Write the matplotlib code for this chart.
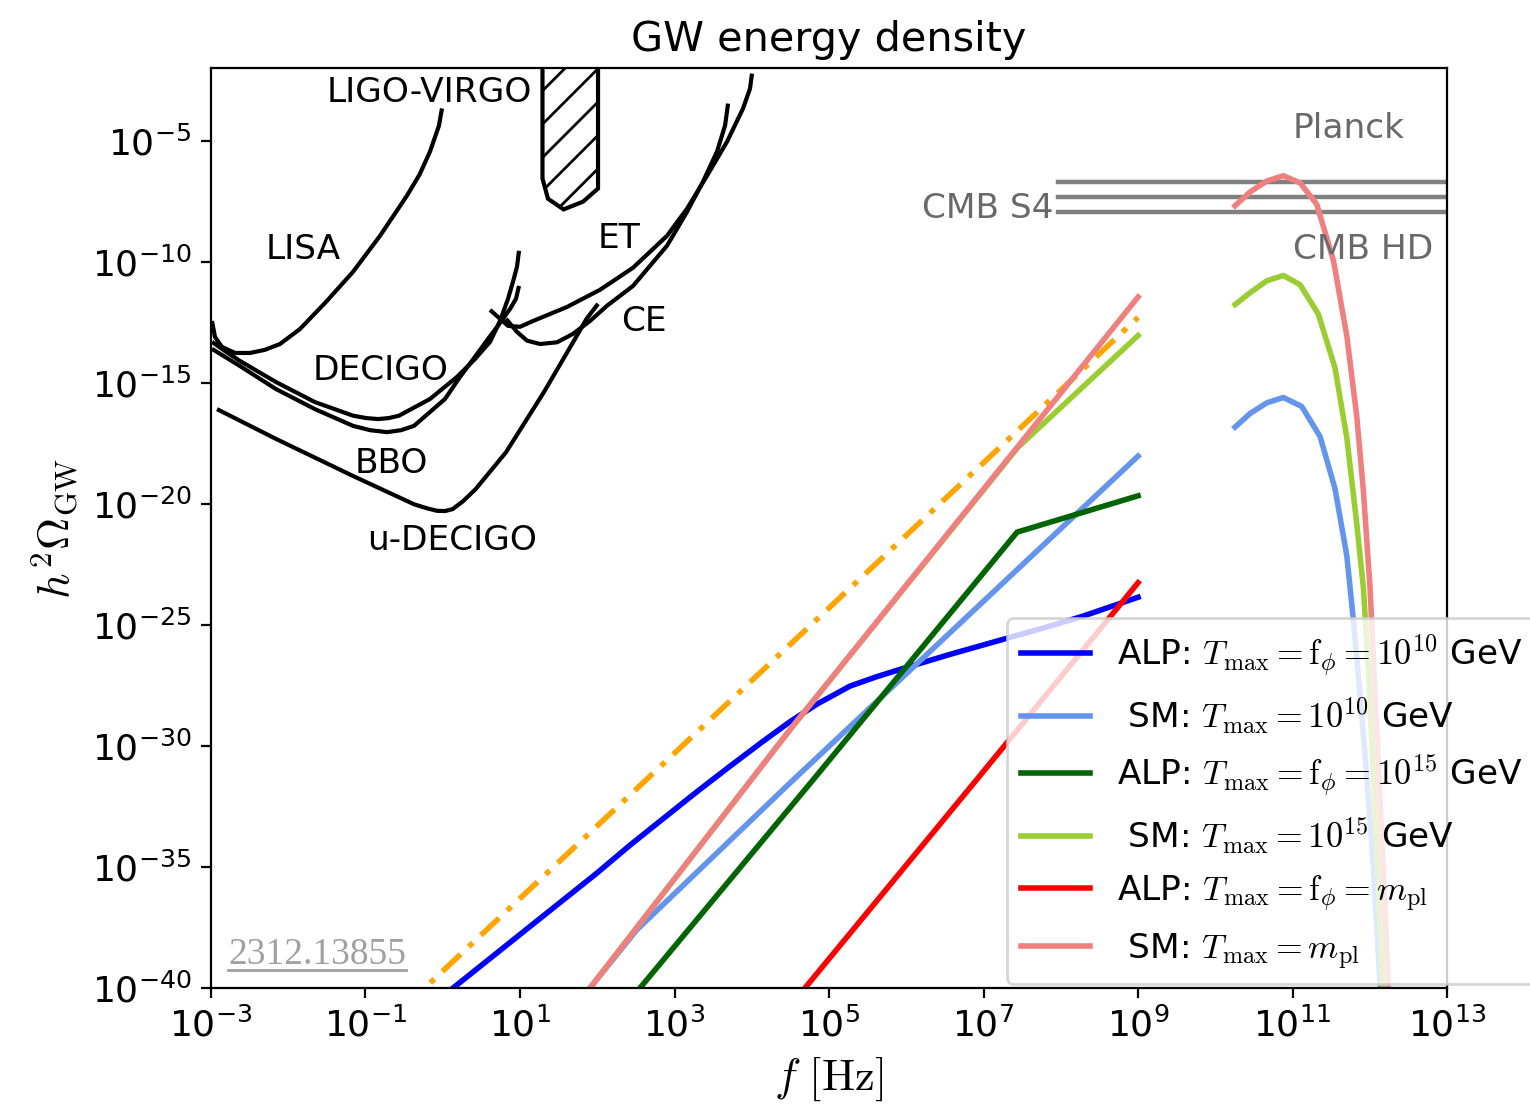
import matplotlib
matplotlib.use("Agg")
import matplotlib.pyplot as plt
import numpy as np

plt.rcParams["mathtext.fontset"] = "cm"

# ---- detector sensitivity curves (log10 f [Hz], log10 h^2 Omega_GW) ----
lisa_lf = [-2.987, -2.948, -2.858, -2.689, -2.495, -2.301, -2.107, -1.848, -1.511,
           -1.162, -0.812, -0.463, -0.300, -0.165, -0.049, -0.010]
lisa_lo = [-12.45, -13.11, -13.52, -13.77, -13.77, -13.64, -13.40, -12.78, -11.66,
           -10.42, -8.93, -7.27, -6.40, -5.45, -4.38, -3.67]

decigo_lf = [-2.987, -2.819, -2.625, -2.159, -1.654, -1.162, -0.990, -0.838, -0.700,
             -0.566, -0.165, 0.184, 0.417, 0.612, 0.741, 0.845, 0.909, 0.961, 0.987]
decigo_lo = [-13.31, -13.69, -14.10, -14.97, -15.80, -16.36, -16.46, -16.50, -16.46,
             -16.36, -15.67, -14.76, -14.02, -13.31, -12.45, -11.53, -10.83, -10.21, -9.55]

bbo_lf = [-2.987, -2.819, -2.625, -2.159, -1.654, -1.162, -0.940, -0.722, -0.540,
          -0.372, 0.029, 0.223, 0.417, 0.586, 0.741, 0.871, 0.948, 0.987]
bbo_lo = [-13.60, -13.93, -14.31, -15.26, -16.09, -16.78, -16.96, -17.04, -16.96,
          -16.78, -15.67, -14.76, -13.93, -13.19, -12.53, -11.95, -11.53, -11.00]

udecigo_lf = [-2.922, -2.152, -1.162, -0.372, -0.200, -0.074, 0.030, 0.128, 0.260,
              0.424, 0.819, 1.311, 1.712, 1.861, 2.010]
udecigo_lo = [-16.09, -17.33, -18.85, -20.02, -20.19, -20.29, -20.30, -20.22, -19.90,
              -19.40, -17.87, -15.38, -13.19, -12.36, -11.74]

et_lf = [0.612, 0.845, 1.000, 1.168, 1.608, 2.036, 2.463, 2.903, 3.162, 3.421,
         3.680, 3.887, 3.977, 4.003]
et_lo = [-11.99, -12.65, -12.69, -12.45, -11.87, -11.16, -10.25, -8.93, -7.81, -6.45,
         -5.04, -3.67, -2.85, -2.23]

ce_lf = [0.819, 0.961, 1.091, 1.259, 1.479, 1.686, 1.906, 2.126, 2.463, 2.903,
         3.162, 3.369, 3.550, 3.654, 3.693]
ce_lo = [-12.36, -12.90, -13.26, -13.40, -13.33, -12.98, -12.45, -11.82, -11.00, -9.34,
         -7.94, -6.69, -5.45, -4.38, -3.47]

ligo_lf = [1.291, 1.291, 1.362, 1.564, 1.816, 1.984, 2.010, 2.010]
ligo_lo = [0.0, -6.57, -7.40, -7.84, -7.52, -7.05, -6.98, 0.0]

# CMB N_eff bounds
cmb_names = ["Planck", "CMB S4", "CMB HD"]
cmb_lo = [-6.69, -7.31, -7.94]
cmb_lf_range = [7.96, 13.5]

# ---- GW spectra ----
ref_lf = [-1.0, 9.0]
ref_lo = [-42.3, -12.3]

alp10_lf = [0.094, 0.698, 1.129, 1.561, 1.993, 2.424, 2.855, 3.287, 3.718, 4.150,
            4.495, 4.841, 5.272, 5.600, 5.919, 6.566, 7.252, 7.861, 8.288, 9.0]
alp10_lo = [-40.10, -38.56, -37.46, -36.36, -35.26, -34.10, -33.00, -31.90, -30.84,
            -29.80, -29.00, -28.28, -27.53, -27.16, -26.84, -26.22, -25.60, -25.05,
            -24.64, -23.86]

sm10_lf = [1.5, 1.906, 2.511, 4.495, 9.0]
sm10_lo = [-41.6, -40.0, -37.60, -31.53, -18.03]

alp15_lf = [2.0, 2.553, 4.797, 7.434, 9.0]
alp15_lo = [-42.2, -40.0, -31.39, -21.17, -19.67]

sm15_lf = [1.5, 1.906, 4.495, 7.445, 9.0]
sm15_lo = [-41.6, -40.0, -29.33, -17.67, -13.05]

alpmpl_lf = [4.0, 4.689, 6.912, 9.0]
alpmpl_lo = [-42.7, -40.0, -31.39, -23.26]

smmpl_lf = [1.5, 1.906, 4.495, 9.0]
smmpl_lo = [-41.6, -40.0, -29.33, -11.46]

# high-frequency peaks of the SM spectra
pk10_lf = [10.256, 10.450, 10.666, 10.881, 11.119, 11.356, 11.550, 11.702, 11.787,
           11.874, 11.960, 12.046, 12.133, 12.25]
pk10_lo = [-16.83, -16.27, -15.83, -15.61, -15.98, -17.22, -19.38, -22.14, -24.80,
           -27.91, -31.23, -35.00, -39.88, -46.0]

pk15_lf = [10.256, 10.450, 10.666, 10.881, 11.097, 11.334, 11.550, 11.702, 11.831,
           11.917, 11.981, 12.046, 12.111, 12.168, 12.25]
pk15_lo = [-11.77, -11.28, -10.79, -10.57, -10.95, -12.17, -14.39, -17.27, -20.82,
           -23.48, -26.80, -31.23, -35.66, -39.88, -45.0]

pkmpl_lf = [10.256, 10.450, 10.666, 10.881, 11.097, 11.313, 11.529, 11.702, 11.831,
            11.917, 12.003, 12.068, 12.133, 12.197, 12.240, 12.30]
pkmpl_lo = [-7.69, -7.12, -6.67, -6.45, -6.74, -7.63, -9.95, -13.06, -16.38,
            -19.48, -23.48, -27.91, -32.34, -36.77, -40.0, -44.0]

labels = [
    r"ALP: $T_{\rm max} = {\rm f}_{\phi} = 10^{10}$ GeV",
    r" SM: $T_{\rm max} = 10^{10}$ GeV",
    r"ALP: $T_{\rm max} = {\rm f}_{\phi} = 10^{15}$ GeV",
    r" SM: $T_{\rm max} = 10^{15}$ GeV",
    r"ALP: $T_{\rm max} = {\rm f}_{\phi} = m_{\rm pl}$",
    r" SM: $T_{\rm max} = m_{\rm pl}$",
]
colors = ["blue", "cornflowerblue", "darkgreen", "yellowgreen", "red", "lightcoral"]


def p(v):
    return 10.0 ** np.asarray(v)


fig = plt.figure(figsize=(7.65, 5.53), dpi=200)
ax = fig.add_axes([0.1379, 0.1067, 0.8079, 0.8318])
ax.set_xscale("log")
ax.set_yscale("log")

# detectors
for lf, lo in [(lisa_lf, lisa_lo), (decigo_lf, decigo_lo), (bbo_lf, bbo_lo),
               (udecigo_lf, udecigo_lo), (et_lf, et_lo), (ce_lf, ce_lo)]:
    ax.plot(p(lf), p(lo), color="black", lw=1.5, solid_capstyle="butt",
            solid_joinstyle="round")
ax.fill(p(ligo_lf), p(ligo_lo), facecolor="none", edgecolor="black", hatch="//", lw=1.5)

for lo in cmb_lo:
    ax.plot(p(cmb_lf_range), p([lo, lo]), color="gray", lw=1.6)

det_text = [("LIGO-VIRGO", -1.498, -3.01), ("LISA", -2.288, -9.51),
            ("DECIGO", -1.680, -14.51), ("BBO", -1.136, -18.32),
            ("u-DECIGO", -0.981, -21.51), ("ET", 2.010, -9.05), ("CE", 2.307, -12.49)]
for s, lf, lo in det_text:
    ax.text(10 ** lf, 10 ** lo, s, fontsize=12.4, ha="left", va="center")
ax.text(10 ** 11.006, 10 ** -4.50, "Planck", fontsize=12.4, color="dimgray", ha="left", va="center")
ax.text(10 ** 7.90, 10 ** -7.81, "CMB S4", fontsize=12.4, color="dimgray", ha="right", va="center")
ax.text(10 ** 11.006, 10 ** -9.51, "CMB HD", fontsize=12.4, color="dimgray", ha="left", va="center")

# spectra
ax.plot(p(ref_lf), p(ref_lo), color="orange", lw=2.0, linestyle=(0, (4.5, 2, 1, 2)))
series = [(alp10_lf, alp10_lo), (sm10_lf, sm10_lo), (alp15_lf, alp15_lo),
          (sm15_lf, sm15_lo), (alpmpl_lf, alpmpl_lo), (smmpl_lf, smmpl_lo)]
for (lf, lo), c, lab in zip(series, colors, labels):
    ax.plot(p(lf), p(lo), color=c, lw=2.0, label=lab, solid_joinstyle="round")
ax.plot(p(pk10_lf), p(pk10_lo), color="cornflowerblue", lw=2.0)
ax.plot(p(pk15_lf), p(pk15_lo), color="yellowgreen", lw=2.0)
ax.plot(p(pkmpl_lf), p(pkmpl_lo), color="lightcoral", lw=2.0)

ax.set_xlim(1e-3, 1e13)
ax.set_ylim(1e-40, 1e-2)
ax.set_xticks([10.0 ** k for k in range(-3, 14, 2)])
ax.set_yticks([10.0 ** k for k in range(-40, -4, 5)])
ax.xaxis.set_minor_locator(matplotlib.ticker.NullLocator())
ax.yaxis.set_minor_locator(matplotlib.ticker.NullLocator())
ax.tick_params(labelsize=13)

ax.set_title("GW energy density", fontsize=14.9)
ax.set_xlabel(r"$f~[{\rm Hz}]$", fontsize=16, labelpad=4)
ax.set_ylabel(r"$h^2\Omega_{\rm GW}$", fontsize=16)

ax.text(0.0138, 0.036, "2312.13855", transform=ax.transAxes, fontsize=13.5,
        family="Liberation Serif", color="#a0a0a0", ha="left", va="center")
ax.plot([0.0138, 0.158], [0.0195, 0.0195], transform=ax.transAxes, color="#a0a0a0", lw=1.0)

ax.legend(loc="lower left", bbox_to_anchor=(0.644, 0.004), borderaxespad=0,
          fontsize=12.4, handlelength=2.0)

fig.savefig("out.png", dpi=200)
